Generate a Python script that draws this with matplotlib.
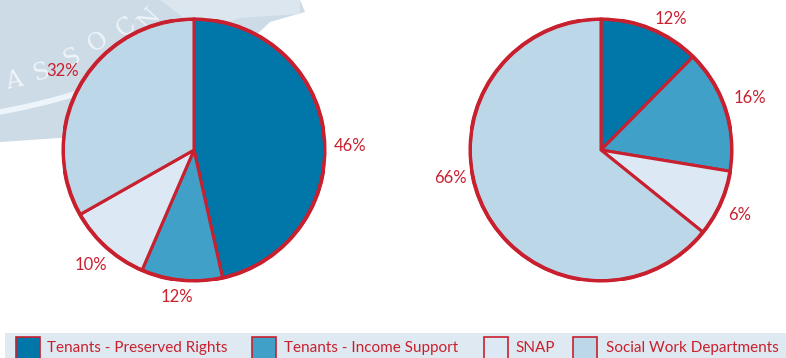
import matplotlib
matplotlib.use("Agg")
import matplotlib.pyplot as plt
from matplotlib.patches import Rectangle, Polygon

# data
categories = ["Tenants - Preserved Rights", "Tenants - Income Support",
              "SNAP", "Social Work Departments"]
left_values = [46.5, 10.0, 10.3, 33.2]
left_labels = ["46%", "12%", "10%", "32%"]
right_values = [12.4, 15.2, 8.2, 64.2]
right_labels = ["12%", "16%", "6%", "66%"]

colors = ["#0077a8", "#40a0c8", "#dce8f3", "#bbd7e8"]
red = "#c8202e"
plt.rcParams["font.family"] = ["Lato", "DejaVu Sans"]

W, H = 786, 358
fig = plt.figure(figsize=(W / 100, H / 100), dpi=100)

# background axes in pixel coords (watermark + legend band)
bg = fig.add_axes([0, 0, 1, 1])
bg.set_xlim(0, W)
bg.set_ylim(H, 0)
bg.axis("off")

# faded seal watermark, top-left
bg.add_patch(Polygon([(0, 0), (300, 0), (305, 12), (270, 22), (230, 60),
                      (200, 125), (150, 128), (60, 138), (0, 142)],
                     closed=True, facecolor="#cddbe6", edgecolor="none"))
bg.add_patch(Polygon([(160, 0), (300, 0), (300, 14), (240, 18), (200, 30)],
                     closed=True, facecolor="#dbe6ee", edgecolor="none"))
bg.plot([0, 25, 50, 75, 100, 130], [112, 107, 101, 94, 86, 76],
        color="#eef5fa", lw=4, solid_capstyle="round")
for ch, (x, y, r) in zip("ASSOCN", [(14, 81, 12), (42, 72, 18), (72, 58, 26),
                                    (98, 42, 34), (126, 27, 40),
                                    (150, 19, 48)]):
    bg.text(x, y, ch, color="#eef5fa", fontsize=17, rotation=r,
            ha="center", va="center", family="DejaVu Serif")

# legend band
bg.add_patch(Rectangle((5, 333), W - 5, 30, facecolor="#dfe9f2",
                       edgecolor="none"))
patch_x = [16, 252, 484, 573]
text_x = [47, 284, 515, 606]
for c, lab, px, tx in zip(colors, categories, patch_x, text_x):
    bg.add_patch(Rectangle((px, 337), 24, 24, facecolor=c, edgecolor=red,
                           lw=1.2))
    bg.text(tx, 348, lab, color=red, fontsize=11, va="center", ha="left")


def draw_pie(cx, cy, r, values, labels, ldist):
    ax = fig.add_axes([(cx - r) / W, (H - cy - r) / H, 2 * r / W, 2 * r / H])
    wedges, texts = ax.pie(values, colors=colors, startangle=90,
                           counterclock=False, labels=labels,
                           labeldistance=ldist,
                           wedgeprops=dict(edgecolor=red, linewidth=2.2),
                           textprops=dict(color=red, fontsize=12,
                                          ha="center", va="center"))
    ax.set_xlim(-1, 1)
    ax.set_ylim(-1, 1)
    ax.set_aspect("auto")
    ax.add_patch(plt.Circle((0, 0), 1, fill=False, edgecolor=red, lw=2.8))
    for t in texts:
        t.set_ha("center")
        t.set_va("center")
    return ax, texts


ax1, t1 = draw_pie(194, 150, 131, left_values, left_labels, 1.18)
ax2, t2 = draw_pie(601, 150, 131, right_values, right_labels, 1.17)
# label placement adjustments to follow the original
t1[0].set_position((1.19, 0.03))
t1[1].set_position((-0.13, -1.12))
t1[3].set_position((-1.0, 0.6))
t2[0].set_position((0.53, 1.0))
t2[1].set_position((1.14, 0.4))
t2[2].set_position((1.06, -0.5))
t2[3].set_position((-1.15, -0.21))

fig.savefig("out.png", dpi=100)
